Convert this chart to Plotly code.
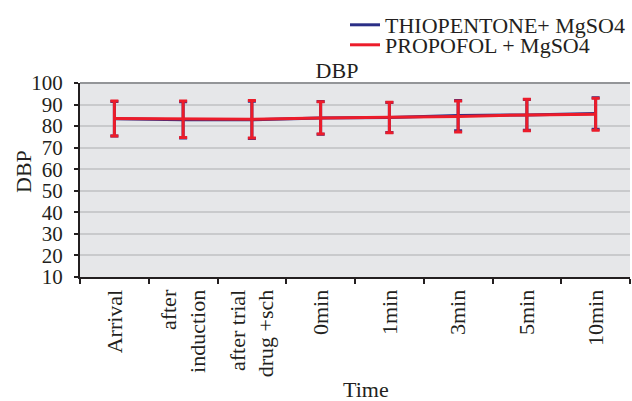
import plotly.graph_objects as go

categories = ["Arrival", "after<br>induction", "after trial<br>drug +sch", "0min", "1min", "3min", "5min", "10min"]
thio_mean = [83.4, 82.9, 82.9, 83.8, 84.0, 84.9, 85.2, 85.8]
thio_sd = [8.0, 8.4, 8.6, 7.6, 7.0, 7.0, 7.1, 7.3]
prop_mean = [83.5, 83.2, 83.2, 83.8, 84.0, 84.5, 85.2, 85.5]
prop_sd = [8.1, 8.5, 8.7, 7.5, 7.1, 7.2, 7.3, 7.4]
y_ticks = [10, 20, 30, 40, 50, 60, 70, 80, 90, 100]

FONT = "Liberation Serif, Times New Roman, serif"
TXT = "#231f20"
FS = 22
W, H = 632, 401
ML, MR, MT, MB = 80, 2, 83, 124

fig = go.Figure()
fig.add_trace(go.Scatter(
    x=categories, y=thio_mean, mode="lines", name="THIOPENTONE+ MgSO4",
    line=dict(color="#2a2e86", width=3), legend="legend",
    error_y=dict(type="data", array=thio_sd, visible=True, color="#2a2e86", thickness=3, width=4),
))
fig.add_trace(go.Scatter(
    x=categories, y=prop_mean, mode="lines", name="PROPOFOL + MgSO4",
    line=dict(color="#ec1c2a", width=3), legend="legend2",
    error_y=dict(type="data", array=prop_sd, visible=True, color="#ec1c2a", thickness=3, width=4),
))

leg_common = dict(xref="container", yref="container", xanchor="left", yanchor="middle",
                  bgcolor="rgba(0,0,0,0)", font=dict(family=FONT, size=FS, color=TXT),
                  itemwidth=30)

pw = W - ML - MR
ph = H - MT - MB

fig.update_layout(
    width=W, height=H,
    margin=dict(l=ML, r=MR, t=MT, b=MB, autoexpand=False),
    paper_bgcolor="white",
    plot_bgcolor="#e6e7e9",
    font=dict(family=FONT, size=FS, color=TXT),
    title=dict(text="DBP", x=337/W, xanchor="center", y=1 - 70/H, yanchor="middle",
               font=dict(family=FONT, size=FS, color=TXT)),
    showlegend=True,
    legend=dict(x=345/W, y=1 - 25/H, **leg_common),
    legend2=dict(x=345/W, y=1 - 45/H, **leg_common),
    xaxis=dict(
        type="category", tickson="boundaries", ticks="outside", ticklen=5, tickwidth=1.5,
        tickcolor=TXT, tickangle=-90, showgrid=False, showline=True, linecolor=TXT,
        linewidth=2, zeroline=False, automargin=False, ticklabelstandoff=2,
        range=[-0.5, 7.5],
    ),
    yaxis=dict(
        range=[10, 100], tickvals=y_ticks, tickfont=dict(size=21),
        ticks="outside", ticklen=4, tickwidth=1.5, tickcolor=TXT,
        showline=True, linecolor=TXT, linewidth=2, automargin=False, ticklabelstandoff=7,
        showgrid=True, gridcolor="#c9cacc", gridwidth=1.5, zeroline=False,
    ),
    annotations=[
        dict(text="Time", xref="paper", yref="paper", x=(366 - ML) / pw, y=-(389 - MT - ph) / ph,
             xanchor="center", yanchor="middle", showarrow=False,
             font=dict(family=FONT, size=FS, color=TXT)),
        dict(text="DBP", xref="paper", yref="paper", x=(23 - ML) / pw, y=1 - (172 - MT) / ph,
             xanchor="center", yanchor="middle", textangle=-90, showarrow=False,
             font=dict(family=FONT, size=FS, color=TXT)),
    ],
    shapes=[dict(type="line", xref="paper", yref="paper", x0=0, x1=1, y0=1, y1=1,
                 line=dict(color="#939598", width=2))],
)

fig.write_html("out.html", config={"displayModeBar": False},
               post_script="document.body.style.margin='0';document.body.style.overflow='hidden';")
